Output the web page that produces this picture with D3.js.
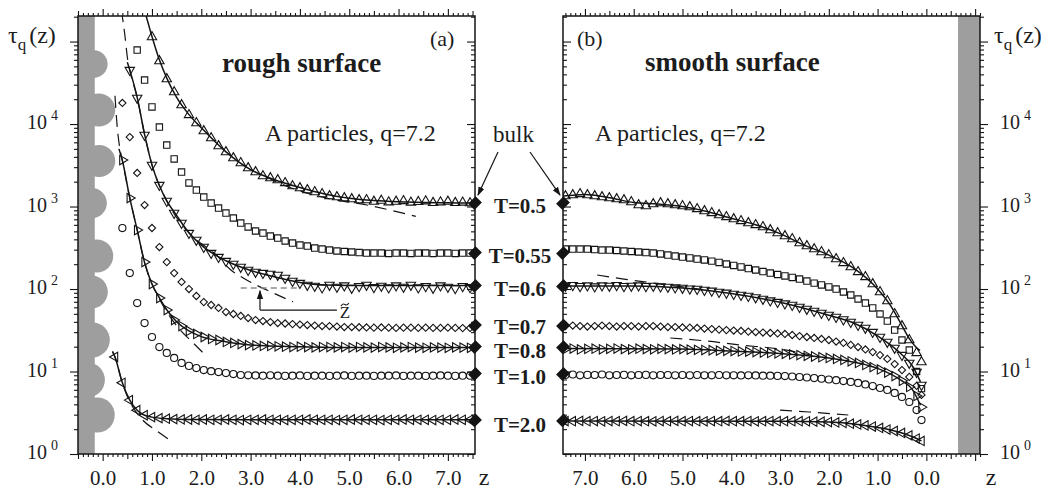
<!DOCTYPE html>
<html>
<head>
<meta charset="utf-8">
<title>tau_q(z) near a rough and a smooth wall</title>
<script src="https://cdn.jsdelivr.net/npm/d3@7"></script>
<style>
  body { margin: 0; background: #fff; }
  svg text { font-family: "Liberation Serif", "Times New Roman", serif; fill: #1c1c1c; }
</style>
</head>
<body>
<svg id="chart" width="1050" height="489"></svg>
<script>
// ---------- data ----------
// panel (a), rough surface: z positions of the markers
const roughZ = [0.25,0.40,0.55,0.70,0.85,1.00,1.15,1.30,1.45,1.60,1.75,1.90,2.05,2.20,2.35,2.50,2.65,2.80,2.95,3.10,
  3.25,3.40,3.55,3.70,3.85,4.00,4.15,4.30,4.45,4.60,4.75,4.90,5.05,5.20,5.35,5.50,5.65,5.80,5.95,6.10,
  6.25,6.40,6.55,6.70,6.85,7.00,7.15,7.30,7.45];
const roughT05 = [null,null,null,null,null,113500,58000,35100,24400,17000,12900,10300,8230,6760,5410,4580,3870,3370,2930,2620,
  2340,2215,2095,1930,1770,1675,1585,1500,1419,1340,1304,1268,1233,1199,1200,1150,1180,1130,1150,1170,
  1120,1140,1160,1110,1130,1150,1110,1120,1100];
const roughT055 = [null,null,null,78900,34100,16100,9200,5560,3770,2620,1930,1585,1304,1102,959,834,726,631,565,505,
  477,439,415,382,361,341,332,314,305,297,289,285,281,277,273,273,273,270,273,273,
  270,273,273,270,273,273,270,273,273];
const roughT06 = [null,null,45100,20700,7360,3190,1820,1166,834,631,477,393,323,273,244,218,201,185,170,161,
  156,152,148,136,125,118,112,109,104,112,106,110,103,108,112,105,109,104,110,106,
  112,104,108,103,110,106,102,108,105];
const roughT07 = [null,18000,6950,2550,1043,549,323,212,156,122,100,82.3,69.5,64.0,58.9,52.6,49.8,47.1,44.5,42.1,
  40.9,39.8,38.7,38.2,37.6,37.1,36.6,36.1,35.6,35.6,35.1,34.6,34.6,34.4,34.2,34.0,34.2,34.0,33.8,34.0,
  34.0,33.8,34.0,33.8,33.8,34.0,33.8,33.6,33.8];
const roughT08 = [null,3660,1268,519,212,115,77.8,55.6,42.1,35.6,31.0,28.5,26.2,24.8,24.1,22.8,22.2,21.5,20.9,20.7,
  20.4,20.4,20.2,20.0,19.8,20.0,19.8,19.6,19.8,19.8,19.6,19.8,19.5,19.8,19.6,19.5,19.8,19.6,19.4,19.6,
  19.8,19.5,19.4,19.6,19.5,19.4,19.6,19.5,19.4];
const roughT10 = [null,549,156,67.6,38.7,26.2,19.8,16.8,14.6,12.7,11.7,11.0,10.4,10.1,9.86,9.59,9.32,9.07,9.0,8.95,
  8.9,9.0,8.9,8.85,8.9,8.95,8.85,8.9,8.9,8.85,8.9,8.95,8.85,8.9,8.9,8.85,8.9,8.9,8.95,8.85,
  8.9,8.9,8.85,8.9,8.95,8.9,8.85,8.9,8.9];
const roughT20 = [15.0,7.3,4.5,3.4,2.95,2.8,2.72,2.68,2.65,2.63,2.62,2.6,2.62,2.6,2.6,2.62,2.6,2.58,2.6,2.6,
  2.62,2.6,2.6,2.58,2.6,2.6,2.62,2.6,2.6,2.6,2.58,2.6,2.62,2.6,2.6,2.6,2.58,2.6,2.6,2.62,
  2.6,2.6,2.6,2.58,2.6,2.6,2.62,2.6,2.6];

// fits in panel (a): [z, tau]
const roughFit05 = [[0.85,2.4e5],[1.0,1.15e5],[1.15,6.0e4],[1.3,3.6e4],[1.5,2.1e4],[1.75,1.3e4],[2.0,9.0e3],[2.5,4.6e3],
  [3.0,2.8e3],[3.5,2.1e3],[4.0,1.7e3],[4.5,1.42e3],[5.0,1.26e3],[5.5,1.18e3],[6.0,1.14e3],[7.0,1.11e3],[7.55,1.1e3]];
const roughDash05 = [[3.3,2.3e3],[3.8,1.7e3],[4.5,1.28e3],[5.4,1.03e3],[6.35,7.6e2]];
const roughFit06 = [[0.5,5.6e4],[0.55,4.5e4],[0.7,2.1e4],[0.85,7.5e3],[1.0,3.2e3],[1.15,1.8e3],[1.3,1.17e3],[1.5,7.8e2],
  [1.75,4.8e2],[2.0,3.4e2],[2.5,2.2e2],[3.0,1.68e2],[3.5,1.4e2],[4.0,1.2e2],[4.5,1.12e2],[5.5,1.1e2],[7.55,1.1e2]];
const roughDash06 = [[0.38,2.4e5],[0.45,1.2e5],[0.5,6.5e4],[0.55,4.5e4],[0.7,2.1e4],[0.85,7.5e3],[1.0,3.2e3],[1.3,1.17e3],
  [1.75,4.8e2],[2.3,2.6e2],[2.6,1.7e2],[2.85,1.36e2],[3.45,9.0e1],[3.86,7.0e1]];
const roughFit08 = [[0.33,5.0e3],[0.4,3.6e3],[0.55,1.27e3],[0.7,5.2e2],[0.85,2.1e2],[1.0,1.15e2],[1.15,7.8e1],[1.3,5.6e1],
  [1.5,4.0e1],[1.75,3.1e1],[2.0,2.65e1],[2.5,2.3e1],[3.0,2.1e1],[4.0,2.0e1],[5.0,1.95e1],[7.55,1.95e1]];
const roughDash08 = [[0.25,2.2e4],[0.29,1.0e4],[0.35,5.0e3],[0.4,3.6e3],[0.55,1.27e3],[0.7,5.2e2],[0.85,2.1e2],[1.0,1.15e2],
  [1.15,7.6e1],[1.3,5.3e1],[1.57,3.2e1],[1.81,2.3e1],[2.03,1.7e1]];
const roughFit20 = [[0.2,17.5],[0.25,15],[0.4,7.3],[0.55,4.5],[0.7,3.4],[0.85,2.95],[1.0,2.8],[1.3,2.68],[1.8,2.62],[3.0,2.6],[7.55,2.6]];
const roughDash20 = [[0.2,17.5],[0.25,15],[0.4,7.2],[0.55,4.3],[0.7,3.1],[0.82,2.55],[1.1,1.9],[1.42,1.4]];

// beads of the rough wall: centre z, centre tau, radius in z units
const wallBeadZ   = [-0.18,-0.08,-0.07,-0.22,-0.12,-0.23,-0.21,-0.31,-0.11];
const wallBeadTau = [53300,14800,3560,1100,251,92,24.1,7.9,2.97];
const wallBeadR   = [0.28,0.335,0.325,0.305,0.335,0.335,0.355,0.355,0.355];

// panel (b), smooth surface
const smoothZ = [7.40,7.25,7.10,6.95,6.80,6.65,6.50,6.35,6.20,6.05,5.90,5.75,5.60,5.45,5.30,5.15,5.00,4.85,4.70,4.55,
  4.40,4.25,4.10,3.95,3.80,3.65,3.50,3.35,3.20,3.05,2.90,2.75,2.60,2.45,2.30,2.15,2.00,1.85,1.70,1.55,
  1.40,1.25,1.10,0.95,0.80,0.65,0.50,0.35,0.20,0.10];
const smoothT05 = [1340,1378,1420,1378,1340,1304,1268,1233,1199,1135,1043,1015,1072,1102,1072,1043,1015,986,935,882,
  837,789,748,705,669,631,598,565,519,477,439,404,361,332,305,281,258,231,207,185,
  161,140,115,92,71.6,49.8,35.6,24.1,16.8,13.0];
const smoothT055 = [305,305,305,305,301,297,297,293,289,285,281,277,273,266,258,251,244,238,231,225,
  218,210,201,193,185,177,170,163,156,150,144,138,132,125,118,112,106,100,92,84.6,
  75.7,67.6,58.9,49.8,40.9,31.8,24.1,18.2,10.0,6.2];
const smoothT06 = [109,111,108,110,107,110,109,111,108,109,110,108,109,107,106,104,103,101,100,97.3,
  95,92,89.8,87,84.6,82.3,79.0,75.7,72.5,69.5,66.6,64.0,60.5,57.3,54.1,51.2,48.4,45.8,42.7,39.8,
  36.6,33.7,30.1,26.2,22.8,19.3,15.8,12.7,9.86,6.86];
const smoothT07 = [35.6,36.1,35.6,35.1,35.6,36.1,35.6,35.1,35.6,35.6,35.1,35.6,35.6,35.1,34.6,34.6,34.2,34.0,33.7,33.2,
  32.7,32.2,31.8,31.4,31.0,30.5,30.1,29.7,29.3,28.9,28.5,27.7,26.9,26.2,25.5,24.8,24.1,23.1,22.2,21.0,
  19.8,18.5,17.2,15.8,14.2,12.3,10.4,8.6,6.7,5.2];
const smoothT08 = [18.7,19.0,18.5,18.8,18.9,18.6,18.8,19.0,18.7,18.6,18.9,18.7,18.6,18.8,18.7,18.5,18.7,18.4,18.3,18.2,
  18.1,17.9,17.8,17.7,17.5,17.4,17.2,17.0,16.8,16.6,16.4,16.1,15.8,15.5,15.2,14.9,14.6,14.2,13.8,13.3,
  12.7,12.0,11.3,10.6,9.7,8.8,7.7,6.5,5.05,3.7];
const smoothT10 = [9.07,9.2,9.0,9.1,9.07,9.2,9.0,9.07,9.1,9.0,9.07,9.1,9.0,9.07,9.07,9.0,9.07,9.0,9.07,9.0,
  9.0,9.07,9.0,9.0,8.95,9.0,8.95,8.9,8.9,8.85,8.81,8.7,8.58,8.46,8.34,8.17,8.0,7.85,7.67,7.47,
  7.26,6.97,6.67,6.31,5.97,5.49,4.91,4.27,3.41,2.58];
const smoothT20 = [2.51,2.5,2.52,2.5,2.51,2.49,2.51,2.5,2.52,2.5,2.51,2.5,2.49,2.51,2.5,2.52,2.5,2.51,2.5,2.49,
  2.51,2.5,2.52,2.5,2.5,2.51,2.49,2.5,2.51,2.5,2.5,2.5,2.5,2.49,2.47,2.46,2.44,2.41,2.38,2.33,
  2.28,2.22,2.15,2.07,1.98,1.90,1.80,1.68,1.54,1.44];

const smoothFit05 = [[7.45,1340],[7.0,1400],[6.5,1280],[6.0,1120],[5.5,1070],[5.0,1000],[4.5,870],[4.0,720],[3.5,600],
  [3.0,470],[2.5,340],[2.0,258],[1.5,180],[1.0,100],[0.75,65],[0.5,36],[0.35,25],[0.22,20],[0.13,18]];
const smoothFit06 = [[7.45,109],[6.0,109],[5.0,103],[4.0,88],[3.0,69],[2.0,48],[1.5,39],[1.0,27],[0.5,16],[0.3,12],[0.12,7.5]];
const smoothDash06 = [[6.75,148],[6.2,132],[5.6,118],[5.0,106],[4.5,97]];
const smoothFit08 = [[7.45,19],[5.0,18.7],[4.0,17.7],[3.0,16.5],[2.0,14.6],[1.4,12.7],[1.0,10.9],[0.5,7.7],[0.3,6.2],[0.12,3.9]];
const smoothDash08 = [[5.25,25.5],[4.5,23.4],[3.8,20.9],[3.0,18.7],[2.4,16.0]];
const smoothFit20 = [[7.45,2.52],[3.0,2.5],[2.0,2.44],[1.4,2.28],[1.0,2.1],[0.5,1.8],[0.2,1.54],[0.1,1.44]];
const smoothDash20 = [[3.0,3.41],[2.4,3.23],[1.6,2.97]];

const temps = ["0.5", "0.55", "0.6", "0.7", "0.8", "1.0", "2.0"];
const bulkTau = [1100, 273, 109, 36.1, 19.8, 9.33, 2.55];
const yMajor = [1, 10, 100, 1000, 10000, 100000];
const yLabelExp = ["0", "1", "2", "3", "4"];

// ---------- drawing ----------
const svg = d3.select("#chart");
const yTop = 16, yBot = 454;
const y = d3.scaleLog().domain([1, 2.04e5]).range([yBot, yTop]);
const xL = d3.scaleLinear().domain([-0.5, 7.55]).range([78, 475]);
const xR = d3.scaleLinear().domain([7.45, -1.1]).range([563, 980]);
const ink = "#141414";

const defs = svg.append("defs");
[["clipL", xL], ["clipR", xR]].forEach(([id, x]) => {
  defs.append("clipPath").attr("id", id).append("rect")
    .attr("x", x.range()[0]).attr("y", yTop)
    .attr("width", x.range()[1] - x.range()[0]).attr("height", yBot - yTop);
});
defs.append("marker").attr("id", "arrow").attr("viewBox", "0 0 10 10")
  .attr("refX", 9).attr("refY", 5).attr("markerWidth", 9).attr("markerHeight", 9)
  .attr("markerUnits", "userSpaceOnUse").attr("orient", "auto")
  .append("path").attr("d", "M0,1.5L10,5L0,8.5Z").attr("fill", ink);

const gL = svg.append("g").attr("clip-path", "url(#clipL)");
const gR = svg.append("g").attr("clip-path", "url(#clipR)");

// walls
const wallGray = "#9e9e9e";
gL.append("rect").attr("x", xL(-0.5)).attr("y", yTop)
  .attr("width", xL(-0.16) - xL(-0.5)).attr("height", yBot - yTop).attr("fill", wallGray);
gL.selectAll(".bead").data(wallBeadZ.map((z, i) => [z, wallBeadTau[i], wallBeadR[i]]))
  .join("circle").attr("class", "bead")
  .attr("cx", d => xL(d[0])).attr("cy", d => y(d[1]))
  .attr("r", d => xL(d[2]) - xL(0)).attr("fill", wallGray);
gR.append("rect").attr("x", xR(-0.65)).attr("y", yTop)
  .attr("width", xR(-1.1) - xR(-0.65)).attr("height", yBot - yTop).attr("fill", wallGray);

// markers
const shapes = {
  up:      {type: d3.symbolTriangle, size: 38, rot: 0},
  down:    {type: d3.symbolTriangle, size: 38, rot: 180},
  left:    {type: d3.symbolTriangle, size: 38, rot: -90},
  right:   {type: d3.symbolTriangle, size: 38, rot: 90},
  square:  {type: d3.symbolSquare, size: 40, rot: 0},
  diamond: {type: d3.symbolSquare, size: 26, rot: 45},
  circle:  {type: d3.symbolCircle, size: 40, rot: 0}
};
const shapeOrder = ["up", "square", "down", "diamond", "right", "circle", "left"];

function lineFor(x) {
  return d3.line().x(d => x(d[0])).y(d => y(d[1])).curve(d3.curveMonotoneX);
}
function drawLine(g, x, pts, dashed) {
  g.append("path").datum(pts).attr("d", lineFor(x))
    .attr("fill", "none").attr("stroke", ink)
    .attr("stroke-width", dashed ? 1.2 : 1.5)
    .attr("stroke-dasharray", dashed ? "12,7" : null);
}
function drawMarkers(g, x, zs, vals, shape) {
  const s = shapes[shape];
  const sym = d3.symbol().type(s.type).size(s.size);
  g.append("g").selectAll("path")
    .data(zs.map((z, i) => [z, vals[i]]).filter(d => d[1] != null))
    .join("path").attr("d", sym)
    .attr("transform", d => `translate(${x(d[0])},${y(d[1])}) rotate(${s.rot})`)
    .attr("fill", "none").attr("stroke", ink).attr("stroke-width", 1.1);
}

[roughFit05, roughFit06, roughFit08, roughFit20].forEach(p => drawLine(gL, xL, p, false));
[roughDash05, roughDash06, roughDash08, roughDash20].forEach(p => drawLine(gL, xL, p, true));
[smoothFit05, smoothFit06, smoothFit08, smoothFit20].forEach(p => drawLine(gR, xR, p, false));
[smoothDash06, smoothDash08, smoothDash20].forEach(p => drawLine(gR, xR, p, true));

[roughT05, roughT055, roughT06, roughT07, roughT08, roughT10, roughT20]
  .forEach((v, i) => drawMarkers(gL, xL, roughZ, v, shapeOrder[i]));
[smoothT05, smoothT055, smoothT06, smoothT07, smoothT08, smoothT10, smoothT20]
  .forEach((v, i) => drawMarkers(gR, xR, smoothZ, v, shapeOrder[i]));

// z-tilde marker in panel (a)
const zt = svg.append("g");
zt.append("line").attr("x1", xL(2.8)).attr("x2", xL(4.0)).attr("y1", y(103)).attr("y2", y(103))
  .attr("stroke", "#8a8a8a").attr("stroke-width", 1.4).attr("stroke-dasharray", "6,4");
zt.append("path").attr("d", d3.line()([[xL(3.19), y(55.6)], [xL(3.19), y(95)]]))
  .attr("stroke", ink).attr("stroke-width", 1.2).attr("marker-end", "url(#arrow)");
zt.append("line").attr("x1", xL(3.19)).attr("x2", xL(4.75)).attr("y1", y(55.6)).attr("y2", y(55.6))
  .attr("stroke", ink).attr("stroke-width", 1.2);
const ztx = xL(4.81), zty = y(44.5);
zt.append("text").attr("x", ztx).attr("y", zty).attr("font-size", 17).text("Z");
// tilde drawn as a small wave above the Z
zt.append("path")
  .attr("d", d3.line().curve(d3.curveBasis)([[ztx + 1, zty - 12], [ztx + 3.5, zty - 15], [ztx + 6.5, zty - 12], [ztx + 9, zty - 15]]))
  .attr("fill", "none").attr("stroke", "#1c1c1c").attr("stroke-width", 1.1);

// frames
[xL, xR].forEach(x => {
  svg.append("rect").attr("x", x.range()[0]).attr("y", yTop)
    .attr("width", x.range()[1] - x.range()[0]).attr("height", yBot - yTop)
    .attr("fill", "none").attr("stroke", ink).attr("stroke-width", 1.5);
});

// x axes
function styleAxis(g) {
  g.select(".domain").remove();
  g.selectAll(".tick line").attr("stroke", ink).attr("stroke-width", 1.1);
  g.selectAll("text").attr("font-size", 21).attr("fill", "#1c1c1c")
    .style("font-family", "'Liberation Serif', serif");
}
function xAxes(x, lo, hi, labels) {
  const all = d3.range(Math.round(lo * 10), Math.round(hi * 10) + 1);
  const groups = [
    [all.filter(v => v % 10 !== 0 && v % 5 !== 0), 3],
    [all.filter(v => v % 10 !== 0 && v % 5 === 0), 5],
    [all.filter(v => v % 10 === 0), 7]
  ];
  groups.forEach(([vals, len]) => {
    const tv = vals.map(v => v / 10);
    const isMajor = len === 7;
    svg.append("g").attr("transform", `translate(0,${yBot})`)
      .call(d3.axisBottom(x).tickValues(tv).tickSize(len).tickPadding(9)
        .tickFormat(isMajor ? (d => labels.includes(d) ? d3.format(".1f")(d) : "") : ""))
      .call(styleAxis);
    svg.append("g").attr("transform", `translate(0,${yTop})`)
      .call(d3.axisTop(x).tickValues(tv).tickSize(len).tickFormat(""))
      .call(styleAxis);
  });
}
xAxes(xL, -0.5, 7.5, d3.range(0, 8));
xAxes(xR, -1.1, 7.4, d3.range(0, 8));

// y axes
const yMinor = [];
yMajor.forEach(m => d3.range(2, 10).forEach(k => { if (m * k <= 2.04e5) yMinor.push(m * k); }));
function yAxis(axisFn, xpos) {
  svg.append("g").attr("transform", `translate(${xpos},0)`)
    .call(axisFn(y).tickValues(yMajor).tickSize(8).tickFormat("")).call(styleAxis);
  svg.append("g").attr("transform", `translate(${xpos},0)`)
    .call(axisFn(y).tickValues(yMinor).tickSize(4).tickFormat("")).call(styleAxis);
}
yAxis(d3.axisLeft, xL.range()[0]);
yAxis(d3.axisLeft, xL.range()[1]);
yAxis(d3.axisRight, xR.range()[0]);
yAxis(d3.axisRight, xR.range()[1]);

// y tick labels 10^n
function yLabels(xStart) {
  yLabelExp.forEach((e, i) => {
    const t = svg.append("text").attr("x", xStart).attr("y", y(yMajor[i]) + 5).attr("font-size", 20);
    t.append("tspan").text("10");
    t.append("tspan").attr("dx", 4).attr("dy", -9).attr("font-size", 14).text(e);
  });
}
yLabels(27);
yLabels(1000);

// axis titles
function tauLabel(xStart) {
  const t = svg.append("text").attr("x", xStart).attr("y", 43).attr("font-size", 24);
  t.append("tspan").text("τ");
  t.append("tspan").attr("dy", 7).attr("font-size", 17).text("q");
  t.append("tspan").attr("dy", -7).attr("dx", 3).text("(z)");
}
tauLabel(8);
tauLabel(994);
[484, 991].forEach(cx => svg.append("text").attr("x", cx).attr("y", 485)
  .attr("text-anchor", "middle").attr("font-size", 24).text("z"));

// panel texts
svg.append("text").attr("x", 222).attr("y", 72).attr("font-size", 27).attr("font-weight", "bold").text("rough surface");
svg.append("text").attr("x", 645).attr("y", 71).attr("font-size", 27).attr("font-weight", "bold").text("smooth surface");
svg.append("text").attr("x", 430).attr("y", 46).attr("font-size", 22).text("(a)");
svg.append("text").attr("x", 577).attr("y", 46).attr("font-size", 22).text("(b)");
svg.append("text").attr("x", 265).attr("y", 141).attr("font-size", 24).text("A particles, q=7.2");
svg.append("text").attr("x", 595).attr("y", 141).attr("font-size", 24).text("A particles, q=7.2");

// bulk values, T labels, arrows
const diamond = d3.symbol().type(d3.symbolSquare).size(95);
[xL(7.55), xR(7.45)].forEach(cx => {
  svg.append("g").selectAll("path").data(bulkTau).join("path")
    .attr("d", diamond)
    .attr("transform", d => `translate(${cx},${y(d)}) rotate(45) scale(0.92,1.08)`)
    .attr("fill", ink);
});
const labelShift = [3, 3, 3, 1, 4, 3, 4];
svg.append("g").selectAll("text").data(temps).join("text")
  .attr("x", 520).attr("y", (d, i) => y(bulkTau[i]) + labelShift[i]).attr("dy", "0.35em")
  .attr("text-anchor", "middle").attr("font-size", 21).attr("font-weight", "bold")
  .text(d => "T=" + d);
svg.append("text").attr("x", 493).attr("y", 142).attr("font-size", 23).text("bulk");
const ay = y(bulkTau[0]);
svg.append("path").attr("d", d3.line()([[498, 152], [xL(7.55) + 3, ay - 8]]))
  .attr("stroke", ink).attr("stroke-width", 1.2).attr("marker-end", "url(#arrow)");
svg.append("path").attr("d", d3.line()([[530, 152], [xR(7.45) - 3, ay - 8]]))
  .attr("stroke", ink).attr("stroke-width", 1.2).attr("marker-end", "url(#arrow)");
</script>
</body>
</html>
